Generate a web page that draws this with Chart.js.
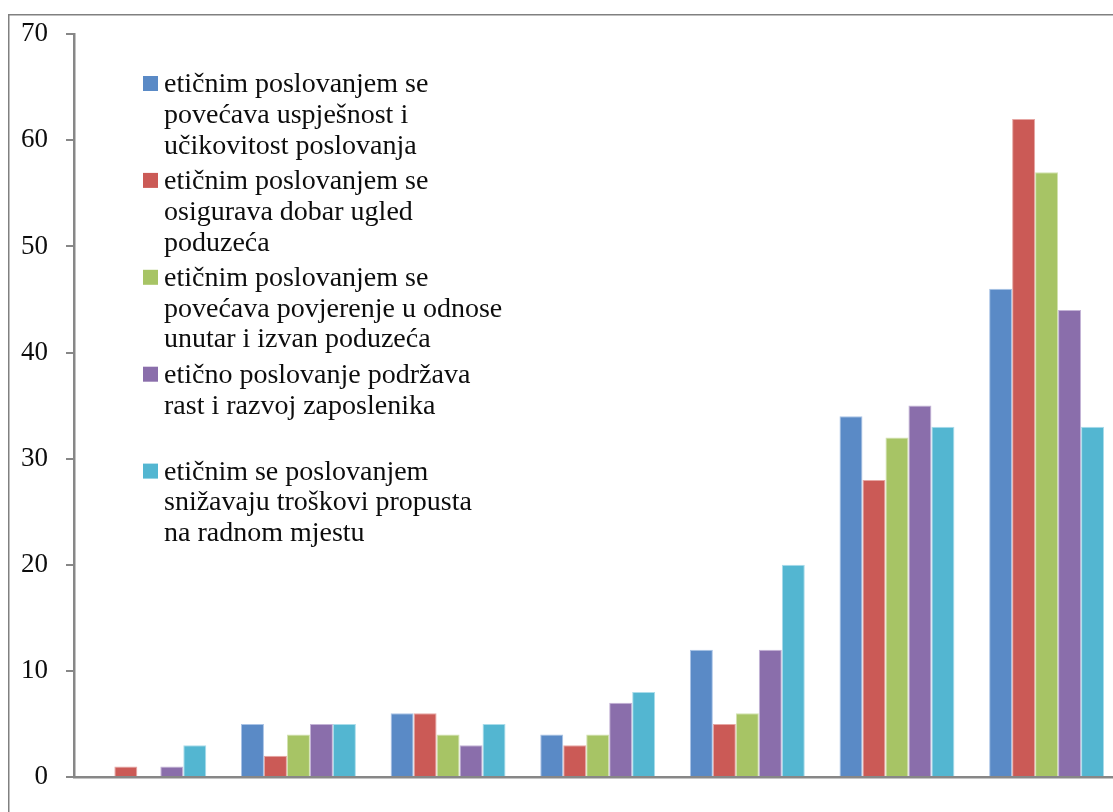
<!DOCTYPE html>
<html>
<head>
<meta charset="utf-8">
<script src="https://cdn.jsdelivr.net/npm/chart.js@4.4.1/dist/chart.umd.min.js"></script>
<style>
  html, body { margin: 0; padding: 0; background: #fff; overflow: hidden; }
  #wrap { width: 1113px; height: 812px; overflow: hidden; position: relative; }
  #wrap canvas { position: absolute; left: 0; top: 0; }
</style>
</head>
<body>
<div id="wrap"><canvas id="grafico" width="1130" height="812"></canvas></div>
<script>
// --- podaci ---
const kategorije = ['1', '2', '3', '4', '5', '6', '7'];

const uspjesnost = [0, 5, 6, 4, 12, 34, 46];
const ugled = [1, 2, 6, 3, 5, 28, 62];
const povjerenje = [0, 4, 4, 4, 6, 32, 57];
const razvoj = [1, 5, 3, 7, 12, 35, 44];
const troskovi = [3, 5, 5, 8, 20, 33, 33];

const yTicks = [0, 10, 20, 30, 40, 50, 60, 70];

// legenda: svaki red je zaseban redak teksta
const legendaTekst = [
    ['etičnim poslovanjem se', 'povećava uspješnost i', 'učikovitost poslovanja'],
    ['etičnim poslovanjem se', 'osigurava dobar ugled', 'poduzeća'],
    ['etičnim poslovanjem se', 'povećava povjerenje u odnose', 'unutar i izvan poduzeća'],
    ['etično poslovanje podržava', 'rast i razvoj zaposlenika', ''],
    ['etičnim se poslovanjem', 'snižavaju troškovi propusta', 'na radnom mjestu']
];

const boje = ['#5a8ac6', '#cb5a56', '#a7c465', '#8a6eab', '#53b6d1'];
const rubovi = ['#a9c3e6', '#e6a6a3', '#d2e2b0', '#c3b3d6', '#a9dcea'];

const FONT = "'Liberation Serif', 'Times New Roman', serif";
const SIVA = '#878787';

// okvir oko cijele slike (desni i donji rub su izvan kadra)
const okvirPlugin = {
    id: 'okvir',
    beforeDraw(chart) {
        const c = chart.ctx;
        c.save();
        c.strokeStyle = '#808080';
        c.lineWidth = 1.5;
        c.strokeRect(8.75, 14.75, 1300, 900);
        c.restore();
    }
};

// legenda unutar područja grafa, tekst u više redaka
const legendaPlugin = {
    id: 'legendaViseRedaka',
    afterDraw(chart) {
        const c = chart.ctx;
        const lineH = 30.8;
        const razmak = 4.5;
        let y = 92;
        c.save();
        c.font = '28px ' + FONT;
        c.textBaseline = 'alphabetic';
        c.textAlign = 'left';
        chart.data.datasets.forEach((ds, i) => {
            c.fillStyle = ds.backgroundColor;
            c.fillRect(143, y - 16, 15, 15);
            c.fillStyle = '#0d0d0d';
            legendaTekst[i].forEach((red, j) => {
                c.fillText(red, 164, y + j * lineH);
            });
            y += legendaTekst[i].length * lineH + razmak;
        });
        c.restore();
    }
};

const skupovi = [uspjesnost, ugled, povjerenje, razvoj, troskovi].map((d, i) => ({
    label: legendaTekst[i].join(' ').trim(),
    data: d,
    backgroundColor: boje[i],
    borderColor: rubovi[i],
    borderWidth: 1,
    barPercentage: 1.0,
    categoryPercentage: 0.768
}));

new Chart(document.getElementById('grafico'), {
    type: 'bar',
    data: { labels: kategorije, datasets: skupovi },
    options: {
        responsive: false,
        animation: false,
        devicePixelRatio: 1,
        layout: { padding: { top: 34, right: 8.6, bottom: 0, left: 0 } },
        plugins: {
            legend: { display: false },
            tooltip: { enabled: false }
        },
        scales: {
            x: {
                grid: { display: false },
                ticks: { display: false },
                border: { display: true, color: SIVA, width: 2.5 },
                afterFit: (s) => { s.height = 35; }
            },
            y: {
                min: 0,
                max: 70,
                afterBuildTicks: (s) => { s.ticks = yTicks.map(v => ({ value: v })); },
                grid: {
                    drawOnChartArea: false,
                    drawTicks: true,
                    tickLength: 8,
                    color: SIVA,
                    lineWidth: 2
                },
                border: { display: true, color: SIVA, width: 2.5 },
                ticks: {
                    padding: 18,
                    color: '#0d0d0d',
                    font: { family: FONT, size: 27 }
                },
                afterFit: (s) => { s.width = 74; }
            }
        }
    },
    plugins: [okvirPlugin, legendaPlugin]
});
</script>
</body>
</html>
